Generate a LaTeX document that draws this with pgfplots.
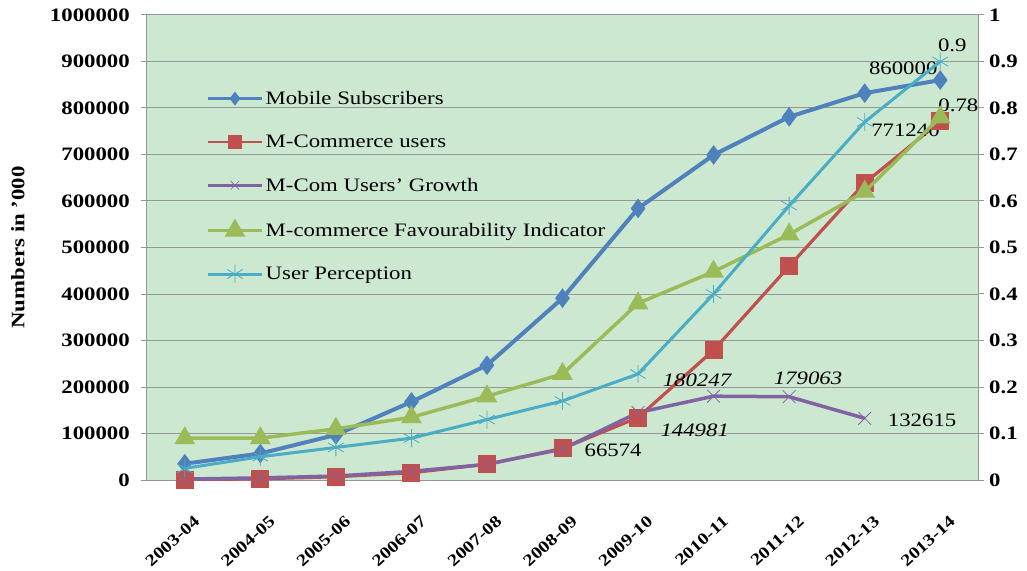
\documentclass[border=0pt]{standalone}
\usepackage{fontspec}
\setmainfont{Liberation Serif}[FakeStretch=1.2]
\usepackage{pgfplots}
\pgfplotsset{compat=1.18}
\definecolor{bgc}{RGB}{205,232,208}
\definecolor{gridc}{RGB}{150,150,150}
\definecolor{cblue}{RGB}{79,129,189}
\definecolor{cred}{RGB}{192,80,77}
\definecolor{cpurple}{RGB}{128,100,162}
\definecolor{cgreen}{RGB}{155,187,89}
\definecolor{ccyan}{RGB}{75,172,198}
\tikzset{lbl/.style={font=\fontsize{19}{19}\selectfont, inner sep=0pt}}
\pgfplotsset{
  common/.style={
    scale only axis, width=831pt, height=465pt,
    at={(0,0)}, anchor=south west,
    xmin=-0.5, xmax=10.5,
    tick align=outside, major tick length=6pt,
    tick style={gridc, line width=1pt},
    yticklabel style={font=\bfseries\fontsize{19}{19}\selectfont,
      /pgf/number format/assume math mode=true},
  },
  sBlue/.style={cblue, line width=4pt, mark=diamond*, mark size=9pt, mark options={solid, line width=1pt}},
  sRed/.style={cred, line width=3.2pt, mark=square*, mark size=8.5pt, mark options={solid, line width=1pt}},
  sPurple/.style={cpurple, line width=3.5pt, mark=x, mark size=9pt, mark options={solid, line width=0.8pt}},
  sGreen/.style={cgreen, line width=3.5pt, mark=triangle*, mark size=11pt, mark options={solid, line width=1pt}},
  sCyan/.style={ccyan, line width=3pt, mark=asterisk, mark size=9pt, mark options={solid, line width=0.8pt}},
}
\begin{document}
\begin{tikzpicture}
\useasboundingbox (-147pt,-90pt) rectangle (880pt,480pt);
\begin{axis}[common,
  ymin=0, ymax=1000000,
  axis background/.style={fill=bgc},
  axis line style={gridc, line width=1pt},
  xtick={0,...,10},
  xticklabels={2003-04,2004-05,2005-06,2006-07,2007-08,2008-09,2009-10,2010-11,2011-12,2012-13,2013-14},
  x tick style={draw=none},
  xticklabel style={rotate=42, anchor=north east, font=\bfseries\fontsize{16.5}{16.5}\selectfont, inner sep=0pt, xshift=-13pt, yshift=-27pt},
  ytick={0,100000,200000,300000,400000,500000,600000,700000,800000,900000,1000000},
  scaled y ticks=false,
  yticklabel style={/pgf/number format/fixed, /pgf/number format/1000 sep={}, anchor=east, inner sep=0pt, xshift=-11pt},
  ymajorgrids, grid style={gridc, line width=1pt},
  axis y line*=left,
  ylabel={\bfseries\fontsize{19}{19}\selectfont Numbers in '000},
  every axis y label/.style={at={(axis description cs:0,0.5)}, rotate=90, anchor=center, yshift=129pt},
]
\addplot[sBlue] coordinates {(0,35000) (1,57000) (2,97000) (3,168000) (4,247000) (5,391000) (6,584000) (7,699000) (8,781000) (9,832000) (10,860000)};
\addplot[sRed] coordinates {(0,500) (1,2500) (2,7000) (3,15500) (4,34000) (5,67760) (6,134334) (7,279315) (8,459562) (9,638625) (10,771240)};
\addplot[sPurple] coordinates {(0,2000) (1,4500) (2,8500) (3,18500) (4,33760) (5,66574) (6,144981) (7,180247) (8,179063) (9,132615)};
\node[lbl] at (axis cs:9.51,886000) {860000};
\node[lbl] at (axis cs:9.54,752700) {771240};
\node[lbl] at (axis cs:5.67,64500) {66574};
\node[lbl, font=\itshape\fontsize{19}{19}\selectfont] at (axis cs:6.75,107500) {144981};
\node[lbl, font=\itshape\fontsize{19}{19}\selectfont] at (axis cs:6.78,215000) {180247};
\node[lbl, font=\itshape\fontsize{19}{19}\selectfont] at (axis cs:8.25,219000) {179063};
\node[lbl] at (axis cs:9.76,129000) {132615};
\end{axis}
\begin{axis}[common,
  ymin=0, ymax=1,
  axis x line=none,
  axis y line*=right,
  axis line style={gridc, line width=1pt},
  ytick={0,0.1,0.2,0.3,0.4,0.5,0.6,0.7,0.8,0.9,1},
  yticklabel style={/pgf/number format/fixed, /pgf/number format/precision=1, anchor=west, inner sep=0pt, xshift=5pt},
  legend style={draw=none, fill=none, at={(rel axis cs:0,1)}, anchor=north west,
    xshift=56pt, yshift=-72pt,
    font=\fontsize{19}{19}\selectfont, row sep=25pt},
  legend cell align=left,
  legend image code/.code={\draw[mark repeat=2,mark phase=2,#1] plot coordinates {(0pt,0pt) (27pt,0pt) (54pt,0pt)};},
]
\addlegendimage{cblue, line width=2.5pt, mark=diamond*, mark size=5pt}
\addlegendentry{Mobile Subscribers}
\addlegendimage{cred, line width=2.5pt, mark=square*, mark size=6pt}
\addlegendentry{M-Commerce users}
\addlegendimage{cpurple, line width=2.5pt, mark=x, mark size=6pt, mark options={line width=0.6pt}}
\addlegendentry{M-Com Users' Growth}
\addplot[sGreen] coordinates {(0,0.09) (1,0.09) (2,0.11) (3,0.135) (4,0.18) (5,0.228) (6,0.38) (7,0.448) (8,0.528) (9,0.62) (10,0.78)};
\addlegendentry{M-commerce Favourability Indicator}
\addplot[sCyan] coordinates {(0,0.025) (1,0.05) (2,0.07) (3,0.09) (4,0.13) (5,0.17) (6,0.228) (7,0.4) (8,0.59) (9,0.77) (10,0.9)};
\addlegendentry{User Perception}
\node[lbl] at (axis cs:10.16,0.935) {0.9};
\node[lbl] at (axis cs:10.24,0.806) {0.78};
\end{axis}
\end{tikzpicture}
\end{document}
